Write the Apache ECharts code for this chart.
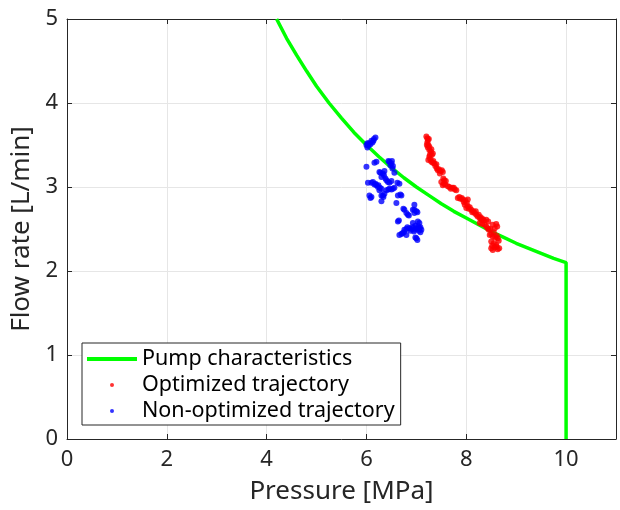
<!DOCTYPE html>
<html><head><meta charset="utf-8">
<script src="https://cdn.jsdelivr.net/npm/echarts@6/dist/echarts.min.js"></script>
<style>html,body{margin:0;padding:0;background:#fff}#c{width:620px;height:510px}</style>
</head><body><div id="c"></div>
<script>
var xTicks = [0, 2, 4, 6, 8, 10];
var yTicks = [0, 1, 2, 3, 4, 5];
var pumpCurve = [[4.2,5],[4.4,4.77],[4.6,4.57],[4.8,4.38],[5.0,4.2],[5.25,4.0],[5.5,3.82],[5.75,3.65],[6.0,3.5],[6.25,3.36],[6.5,3.23],[6.75,3.11],[7.0,3.0],[7.25,2.9],[7.5,2.8],[7.75,2.71],[8.0,2.63],[8.25,2.55],[8.5,2.47],[8.75,2.4],[9.0,2.33],[9.25,2.27],[9.5,2.21],[9.75,2.15],[10,2.1],[10,0]];
var optimized = [[7.20,3.60],[7.22,3.58],[7.23,3.56],[7.22,3.53],[7.24,3.50],[7.23,3.47],[7.26,3.44],[7.29,3.42],[7.33,3.40],[7.27,3.38],[7.26,3.36],[7.28,3.33],[7.30,3.30],[7.33,3.29],[7.36,3.28],[7.38,3.25],[7.41,3.22],[7.43,3.20],[7.48,3.19],[7.53,3.18],[7.56,3.08],[7.50,3.06],[7.53,3.02],[7.58,3.03],[7.63,3.01],[7.66,3.00],[7.72,2.99],[7.77,2.97],[7.83,2.87],[7.88,2.86],[7.93,2.85],[7.98,2.84],[8.03,2.85],[7.97,2.79],[8.00,2.75],[8.05,2.74],[8.10,2.73],[8.14,2.71],[8.17,2.69],[8.20,2.67],[8.23,2.65],[8.27,2.63],[8.30,2.61],[8.35,2.60],[8.40,2.61],[8.27,2.57],[8.32,2.56],[8.37,2.55],[8.53,2.55],[8.60,2.56],[8.43,2.51],[8.48,2.50],[8.57,2.51],[8.47,2.43],[8.53,2.41],[8.58,2.40],[8.63,2.39],[8.50,2.35],[8.55,2.33],[8.60,2.31],[8.50,2.27],[8.57,2.28],[8.63,2.26],
[7.25,3.57],[7.21,3.50],[7.26,3.48],[7.30,3.45],[7.31,3.38],[7.24,3.32],[7.34,3.31],[7.40,3.27],[7.45,3.21],[7.51,3.20],[7.47,3.16],[7.54,3.10],[7.59,3.07],[7.55,3.04],[7.69,2.98],[7.75,2.99],[7.80,2.96],[7.86,2.88],[7.91,2.87],[8.01,2.81],[7.95,2.82],[8.03,2.77],[8.07,2.76],[8.12,2.70],[8.19,2.71],[8.25,2.67],[8.29,2.64],[8.33,2.62],[8.44,2.59],[8.40,2.53],[8.45,2.49],[8.62,2.53],[8.55,2.46],[8.50,2.44],[8.61,2.42],[8.65,2.36],[8.52,2.30],[8.61,2.29],[8.66,2.27],[8.53,2.25]];
var nonOptimized = [[6.00,3.50],[6.02,3.47],[6.05,3.52],[6.08,3.51],[6.10,3.55],[6.15,3.57],[6.18,3.59],[6.12,3.53],[6.00,3.24],[6.16,3.29],[6.20,3.30],[6.46,3.30],[6.50,3.28],[6.48,3.26],[6.53,3.25],[6.26,3.18],[6.33,3.16],[6.36,3.19],[6.56,3.17],[6.30,3.12],[6.40,3.08],[6.46,3.05],[6.50,3.07],[6.62,3.05],[6.66,3.04],[6.03,3.05],[6.10,3.05],[6.16,3.03],[6.20,3.02],[6.23,3.00],[6.26,2.96],[6.30,2.98],[6.40,2.96],[6.46,2.98],[6.53,2.98],[6.06,2.90],[6.08,2.87],[6.30,2.90],[6.33,2.90],[6.36,2.92],[6.63,2.90],[6.70,2.90],[6.30,2.83],[6.60,2.81],[6.96,2.79],[6.76,2.73],[6.93,2.73],[7.00,2.71],[6.80,2.69],[6.96,2.69],[6.83,2.67],[6.63,2.59],[6.65,2.60],[7.03,2.59],[6.93,2.57],[7.06,2.57],[6.86,2.51],[6.92,2.52],[6.99,2.51],[7.04,2.53],[7.10,2.49],[6.76,2.49],[6.80,2.50],[7.05,2.48],[6.95,2.47],[7.08,2.46],[6.66,2.43],[6.72,2.45],[6.80,2.43],[7.00,2.39],
[6.04,3.49],[6.14,3.55],[6.02,3.52],[6.44,3.31],[6.51,3.31],[6.52,3.22],[6.28,3.17],[6.35,3.14],[6.38,3.10],[6.43,3.06],[6.13,3.06],[6.18,3.04],[6.24,3.02],[6.27,2.99],[6.44,2.97],[6.50,2.97],[6.56,2.99],[6.68,2.91],[6.10,2.88],[6.34,2.88],[6.74,2.74],[6.96,2.73],[7.02,2.70],[6.85,2.66],[6.90,2.50],[6.96,2.49],[7.02,2.50],[7.06,2.51],[6.88,2.48],[6.82,2.52],[6.98,2.54],[7.08,2.52],[6.70,2.44],[6.75,2.46],[6.98,2.40],[7.02,2.37]];

var FONT = '"Noto Sans", sans-serif';
var axisColor = '#262626';
var chart = echarts.init(document.getElementById('c'));
function mainAxis(pos, min, max, interval, name, gap, ticks, margin) {
  return {
    type: 'value', position: pos, min: min, max: max, interval: interval,
    name: name, nameLocation: 'middle', nameGap: gap,
    nameTextStyle: {fontFamily: FONT, fontSize: 26, color: '#262626'},
    axisLine: {show: true, onZero: false, lineStyle: {color: axisColor, width: 1}},
    axisTick: {show: true, inside: true, length: 5, lineStyle: {color: axisColor}},
    axisLabel: {show: true, fontFamily: FONT, fontSize: 22, color: '#262626', margin: margin,
      formatter: function (v) { return ticks.indexOf(v) >= 0 ? String(v) : ''; }},
    splitLine: {show: true, lineStyle: {color: '#e6e6e6', width: 1}}
  };
}
function boxAxis(pos, min, max, interval) {
  return {
    type: 'value', position: pos, min: min, max: max, interval: interval,
    axisLine: {show: true, onZero: false, lineStyle: {color: '#262626', width: 1}},
    axisTick: {show: true, inside: true, length: 5, lineStyle: {color: axisColor}},
    axisLabel: {show: false}, splitLine: {show: false}
  };
}
chart.setOption({
  animation: false,
  backgroundColor: '#ffffff',
  grid: {left: 67, right: 4, top: 19, bottom: 71},
  xAxis: [mainAxis('bottom', 0, 11, 2, 'Pressure [MPa]', 40, xTicks, 10), boxAxis('top', 0, 11, 2)],
  yAxis: [mainAxis('left', 0, 5, 1, 'Flow rate [L/min]', 31, yTicks, 9), boxAxis('right', 0, 5, 1)],
  legend: {
    orient: 'vertical', left: 82, top: 343,
    padding: [5, 6, 3, 5], itemGap: 4, itemWidth: 50, itemHeight: 4,
    backgroundColor: '#ffffff', borderColor: '#262626', borderWidth: 1,
    textStyle: {fontFamily: FONT, fontSize: 21.5, color: '#000'},
    data: [
      {name: 'Pump characteristics', icon: 'rect'},
      {name: 'Optimized trajectory', icon: 'circle'},
      {name: 'Non-optimized trajectory', icon: 'circle'}
    ]
  },
  series: [
    {name: 'Pump characteristics', type: 'line', data: pumpCurve, showSymbol: false,
      lineStyle: {color: '#00ff00', width: 3.5}, itemStyle: {color: '#00ff00'}, z: 2},
    {name: 'Optimized trajectory', type: 'scatter', data: optimized, symbolSize: 6,
      itemStyle: {color: '#ff0000'}, z: 3},
    {name: 'Non-optimized trajectory', type: 'scatter', data: nonOptimized, symbolSize: 6,
      itemStyle: {color: '#0000ff'}, z: 3}
  ]
});
</script></body></html>
